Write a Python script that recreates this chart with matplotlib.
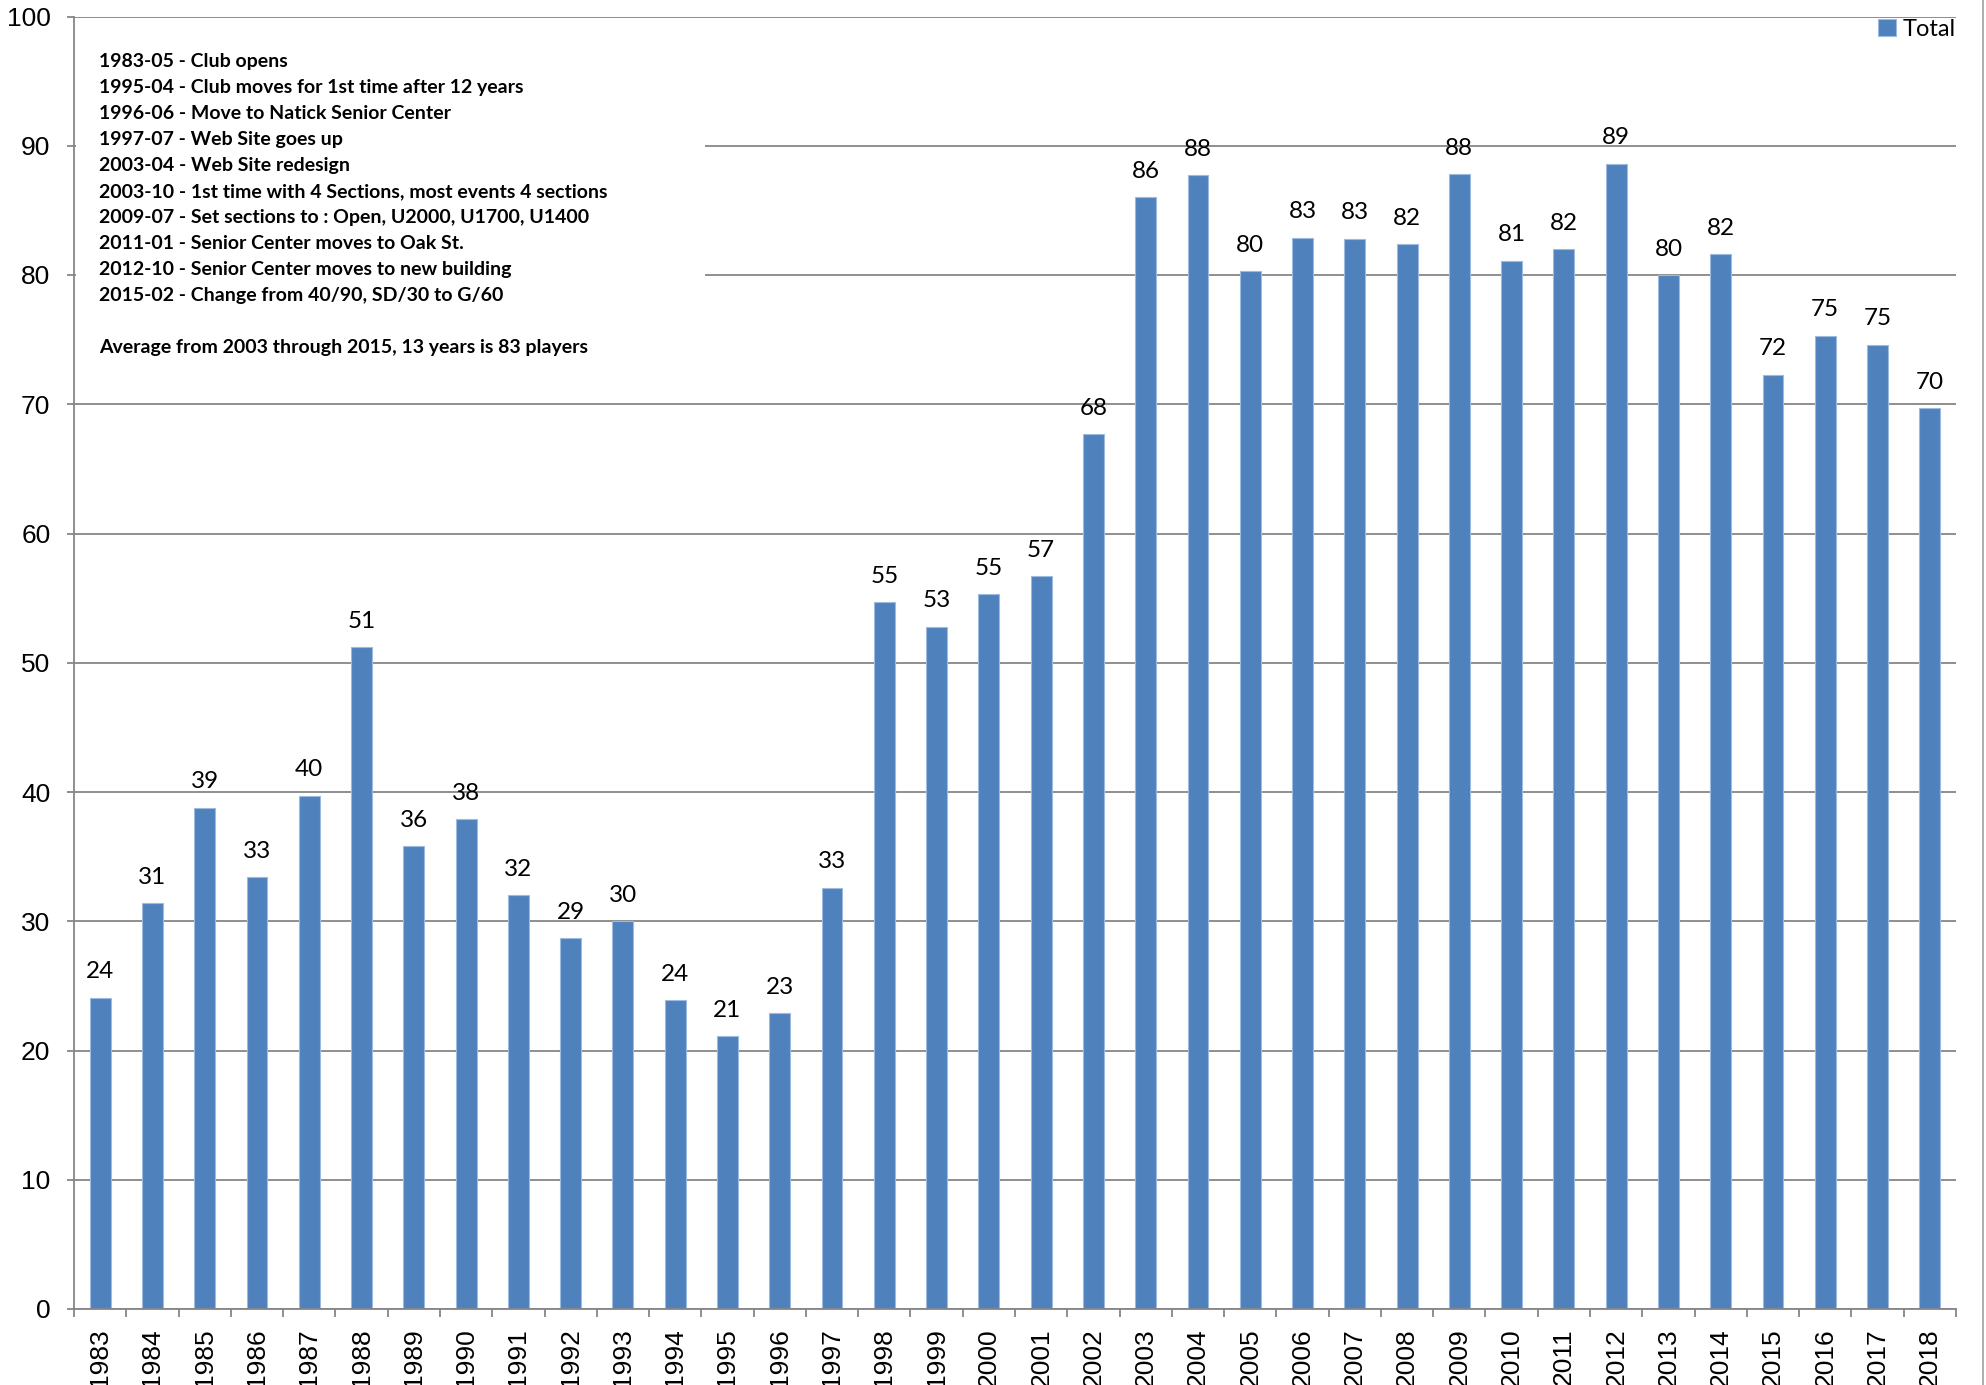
import matplotlib
matplotlib.use("Agg")
import matplotlib.pyplot as plt
from matplotlib.lines import Line2D
from matplotlib.patches import Rectangle

years = [str(y) for y in range(1983, 2019)]
totals = [24.1, 31.4, 38.8, 33.4, 39.7, 51.2, 35.8, 37.9, 32.0, 28.7, 30.0, 23.9,
          21.1, 22.9, 32.6, 54.7, 52.8, 55.3, 56.7, 67.7, 86.0, 87.7, 80.3, 82.9,
          82.8, 82.4, 87.8, 81.1, 82.0, 88.6, 80.0, 81.6, 72.3, 75.3, 74.6, 69.7]
value_labels = [24, 31, 39, 33, 40, 51, 36, 38, 32, 29, 30, 24, 21, 23, 33, 55, 53,
                55, 57, 68, 86, 88, 80, 83, 83, 82, 88, 81, 82, 89, 80, 82, 72, 75,
                75, 70]
yticks = [0, 10, 20, 30, 40, 50, 60, 70, 80, 90, 100]
notes = [
    "1983-05 - Club opens",
    "1995-04 - Club moves for 1st time after 12 years",
    "1996-06 - Move to Natick Senior Center",
    "1997-07 - Web Site goes up",
    "2003-04 - Web Site redesign",
    "2003-10 - 1st time with 4 Sections, most events 4 sections",
    "2009-07 - Set sections to : Open, U2000, U1700, U1400",
    "2011-01 - Senior Center moves to Oak St.",
    "2012-10 - Senior Center moves to new building",
    "2015-02 - Change from 40/90, SD/30 to G/60",
]
average_note = "Average from 2003 through 2015, 13 years is 83 players"
series_name = "Total"

W, H = 1986, 1385
fig = plt.figure(figsize=(W / 100, H / 100), dpi=100)
ax_l, ax_r, ax_t, ax_b = 74, 1956, 16.5, 1309
ax = fig.add_axes([ax_l / W, 1 - ax_b / H, (ax_r - ax_l) / W, (ax_b - ax_t) / H])

bar_color = "#4F81BD"
grid_color = "#868686"
x = list(range(len(years)))
bars = ax.bar(x, totals, width=0.4, color=bar_color, edgecolor="#9DBBE0",
              linewidth=0.8, zorder=2, label=series_name)

for xi, v, lab in zip(x, totals, value_labels):
    ax.annotate(str(lab), (xi, v), xytext=(0, 14), textcoords="offset points",
                ha="center", va="baseline", fontsize=17.5, family="Lato",
                color="black", zorder=3)

ax.set_xlim(-0.5, len(years) - 0.5)
ax.set_ylim(0, 100)
ax.set_yticks(yticks)
ax.set_yticklabels([str(t) for t in yticks], family="Liberation Sans", fontsize=19)
ax.set_xticks(x)
ax.set_xticklabels(years, rotation=90, family="Liberation Sans", fontsize=19)
ax.set_xticks([i - 0.5 for i in range(len(years) + 1)], minor=True)
ax.tick_params(axis="x", which="major", length=0, pad=14)
ax.tick_params(axis="x", which="minor", length=6, width=1.3, color=grid_color,
               direction="out")
ax.tick_params(axis="y", length=5, width=1.3, color=grid_color, pad=12)
for lab in ax.get_xticklabels():
    lab.set_va("top")

ax.yaxis.grid(True, color=grid_color, linewidth=1.3, zorder=0.5)
ax.set_axisbelow(True)
for s in ["top", "right"]:
    ax.spines[s].set_visible(False)
for s in ["left", "bottom"]:
    ax.spines[s].set_color(grid_color)
    ax.spines[s].set_linewidth(1.3)

# white note box covering gridlines
ax.add_patch(Rectangle((0.001, 0.715), (703 - ax_l) / (ax_r - ax_l), 0.27,
                       transform=ax.transAxes, facecolor="white",
                       edgecolor="none", zorder=1))

for i, line in enumerate(notes):
    fig.text(99 / W, 1 - (61 + 26.1 * i) / H, line, family="Lato",
             weight="bold", fontsize=14, va="center", ha="left")
fig.text(99 / W, 1 - 348 / H, average_note, family="Lato", weight="bold",
         fontsize=14, va="center", ha="left")

leg = ax.legend(handles=[bars], loc="upper right", bbox_to_anchor=(1.0, 0.998),
                frameon=False, prop={"family": "Lato", "size": 17},
                handlelength=0.75, handleheight=0.75, handletextpad=0.3,
                borderaxespad=0, borderpad=0)

fig.add_artist(Line2D([1983 / W, 1983 / W], [0, 1], color="#A0A0A0",
                      linewidth=1.2, transform=fig.transFigure))

fig.savefig("out.png", dpi=100)
